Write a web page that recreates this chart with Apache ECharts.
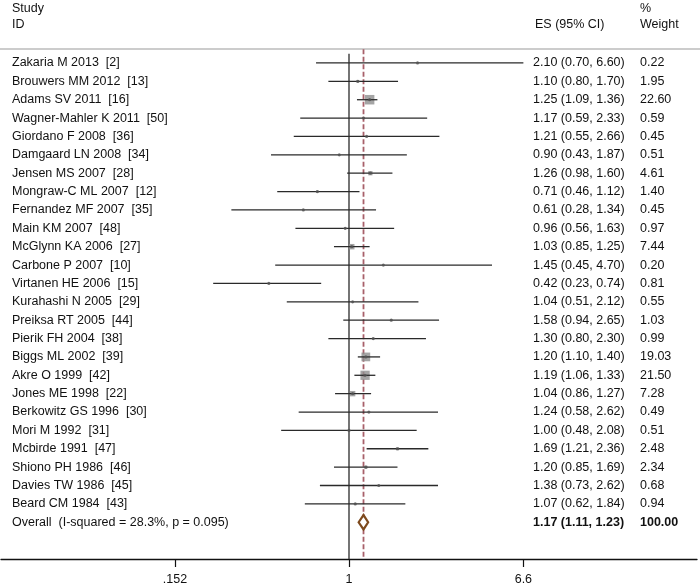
<!DOCTYPE html>
<html><head><meta charset="utf-8">
<script src="https://cdn.jsdelivr.net/npm/echarts@6/dist/echarts.min.js"></script>
<style>html,body{margin:0;padding:0;background:#fff}#c{width:700px;height:588px}</style>
</head><body><div id="c"></div>
<script>
const studies = [
  'Zakaria M 2013  [2]', 'Brouwers MM 2012  [13]', 'Adams SV 2011  [16]', 'Wagner-Mahler K 2011  [50]',
  'Giordano F 2008  [36]', 'Damgaard LN 2008  [34]', 'Jensen MS 2007  [28]', 'Mongraw-C ML 2007  [12]',
  'Fernandez MF 2007  [35]', 'Main KM 2007  [48]', 'McGlynn KA 2006  [27]', 'Carbone P 2007  [10]',
  'Virtanen HE 2006  [15]', 'Kurahashi N 2005  [29]', 'Preiksa RT 2005  [44]', 'Pierik FH 2004  [38]',
  'Biggs ML 2002  [39]', 'Akre O 1999  [42]', 'Jones ME 1998  [22]', 'Berkowitz GS 1996  [30]',
  'Mori M 1992  [31]', 'Mcbirde 1991  [47]', 'Shiono PH 1986  [46]', 'Davies TW 1986  [45]', 'Beard CM 1984  [43]'
];
const es     = [2.10, 1.10, 1.25, 1.17, 1.21, 0.90, 1.26, 0.71, 0.61, 0.96, 1.03, 1.45, 0.42, 1.04, 1.58, 1.30, 1.20, 1.19, 1.04, 1.24, 1.00, 1.69, 1.20, 1.38, 1.07];
const ciLow  = [0.70, 0.80, 1.09, 0.59, 0.55, 0.43, 0.98, 0.46, 0.28, 0.56, 0.85, 0.45, 0.23, 0.51, 0.94, 0.80, 1.10, 1.06, 0.86, 0.58, 0.48, 1.21, 0.85, 0.73, 0.62];
const ciHigh = [6.60, 1.70, 1.36, 2.33, 2.66, 1.87, 1.60, 1.12, 1.34, 1.63, 1.25, 4.70, 0.74, 2.12, 2.65, 2.30, 1.40, 1.33, 1.27, 2.62, 2.08, 2.36, 1.69, 2.62, 1.84];
const weights = ['0.22', '1.95', '22.60', '0.59', '0.45', '0.51', '4.61', '1.40', '0.45', '0.97', '7.44', '0.20', '0.81', '0.55', '1.03', '0.99', '19.03', '21.50', '7.28', '0.49', '0.51', '2.48', '2.34', '0.68', '0.94'];
const overallLabel = 'Overall  (I-squared = 28.3%, p = 0.095)';
const overallES = 1.17, overallLow = 1.11, overallHigh = 1.23;
const overallWeight = '100.00';
const tickValues = [0.152, 1, 6.6];
const tickLabels = ['.152', '1', '6.6'];

const ln = Math.log;
const FONT = '"Liberation Sans", Arial, sans-serif';
const FS = 12.5;
const TXT = '#111';
const fmt = v => v.toFixed(2);
const overallRow = studies.length;
const esText = es.map((v, i) => `${fmt(v)} (${fmt(ciLow[i])}, ${fmt(ciHigh[i])})`);
const tickLn = tickValues.map(ln);

const chart = echarts.init(document.getElementById('c'), null, {renderer: 'canvas'});

const textRows = studies.map((s, i) => [i, s, esText[i], weights[i], 0]);
textRows.push([overallRow, overallLabel, `${fmt(overallES)} (${fmt(overallLow)}, ${fmt(overallHigh)})`, overallWeight, 1]);

chart.setOption({
  animation: false,
  grid: {left: 1, right: 3, top: 44.6, bottom: 29},
  xAxis: {
    type: 'value', min: -3.766, max: 3.766, position: 'bottom',
    axisLine: {show: true, onZero: false, lineStyle: {color: '#111', width: 1.3}},
    axisTick: {show: true, customValues: tickLn, length: 8, lineStyle: {color: '#111', width: 1.2}},
    axisLabel: {
      customValues: tickLn, margin: 14, color: TXT, fontFamily: FONT, fontSize: FS,
      formatter: v => { const k = tickLn.findIndex(t => Math.abs(t - v) < 1e-6); return k >= 0 ? tickLabels[k] : ''; }
    },
    splitLine: {show: false}
  },
  yAxis: {type: 'value', inverse: true, min: -1, max: 27, show: false},
  graphic: [
    {type: 'line', shape: {x1: 0, y1: 49, x2: 700, y2: 49}, style: {stroke: '#9a9a9a', lineWidth: 1.2}},
    {type: 'text', x: 12, y: 9, style: {text: 'Study', font: `${FS}px ${FONT}`, fill: TXT, textVerticalAlign: 'middle'}},
    {type: 'text', x: 12, y: 25, style: {text: 'ID', font: `${FS}px ${FONT}`, fill: TXT, textVerticalAlign: 'middle'}},
    {type: 'text', x: 535, y: 25, style: {text: 'ES (95% CI)', font: `${FS}px ${FONT}`, fill: TXT, textVerticalAlign: 'middle'}},
    {type: 'text', x: 640, y: 9, style: {text: '%', font: `${FS}px ${FONT}`, fill: TXT, textVerticalAlign: 'middle'}},
    {type: 'text', x: 640, y: 25, style: {text: 'Weight', font: `${FS}px ${FONT}`, fill: TXT, textVerticalAlign: 'middle'}}
  ],
  series: [
    {
      type: 'line', data: [[0, -0.5], [0, 27]], symbol: 'none', z: 1,
      lineStyle: {color: '#2a2a2a', width: 1.3}
    },
    {
      type: 'line', data: [[ln(overallES), -0.75], [ln(overallES), 27]], symbol: 'none', z: 1,
      lineStyle: {color: '#a8606a', width: 1.8, type: [5, 2.5]}
    },
    {
      type: 'scatter', symbol: 'rect', z: 2,
      data: es.map((v, i) => [ln(v), i, parseFloat(weights[i])]),
      symbolSize: d => 2 * Math.sqrt(d[2]),
      itemStyle: {color: '#8f8f8f'}
    },
    {
      type: 'custom', z: 3,
      data: es.map((v, i) => [ln(ciLow[i]), ln(ciHigh[i]), i]),
      renderItem: (params, api) => {
        const a = api.coord([api.value(0), api.value(2)]);
        const b = api.coord([api.value(1), api.value(2)]);
        return {type: 'line', shape: {x1: a[0], y1: a[1], x2: b[0], y2: b[1]}, style: {stroke: '#2a2a2a', lineWidth: 1.3}};
      }
    },
    {
      type: 'scatter', symbol: 'circle', symbolSize: 3.2, z: 4,
      data: es.map((v, i) => [ln(v), i]),
      itemStyle: {color: '#555'}
    },
    {
      type: 'custom', z: 5,
      data: [[ln(overallLow), ln(overallES), ln(overallHigh), overallRow]],
      renderItem: (params, api) => {
        const r = api.value(3);
        const l = api.coord([api.value(0), r]);
        const c = api.coord([api.value(1), r]);
        const h = api.coord([api.value(2), r]);
        const hh = 7.2;
        return {type: 'polygon', shape: {points: [[l[0], l[1]], [c[0], c[1] - hh], [h[0], h[1]], [c[0], c[1] + hh]]},
          style: {fill: '#fff', stroke: '#7e4a1e', lineWidth: 2.2}};
      }
    },
    {
      type: 'custom', z: 6,
      data: textRows,
      renderItem: (params, api) => {
        const row = textRows[params.dataIndex];
        const y = api.coord([0, row[0]])[1];
        const bold = row[4] === 1;
        const f = `${bold ? 'bold ' : ''}${FS}px ${FONT}`;
        return {type: 'group', children: [
          {type: 'text', x: 12, y: y, style: {text: row[1], font: `${FS}px ${FONT}`, fill: TXT, textVerticalAlign: 'middle'}},
          {type: 'text', x: 533, y: y, style: {text: row[2], font: f, fill: TXT, textVerticalAlign: 'middle'}},
          {type: 'text', x: 640, y: y, style: {text: row[3], font: f, fill: TXT, textVerticalAlign: 'middle'}}
        ]};
      }
    }
  ]
});
</script>
</body></html>
